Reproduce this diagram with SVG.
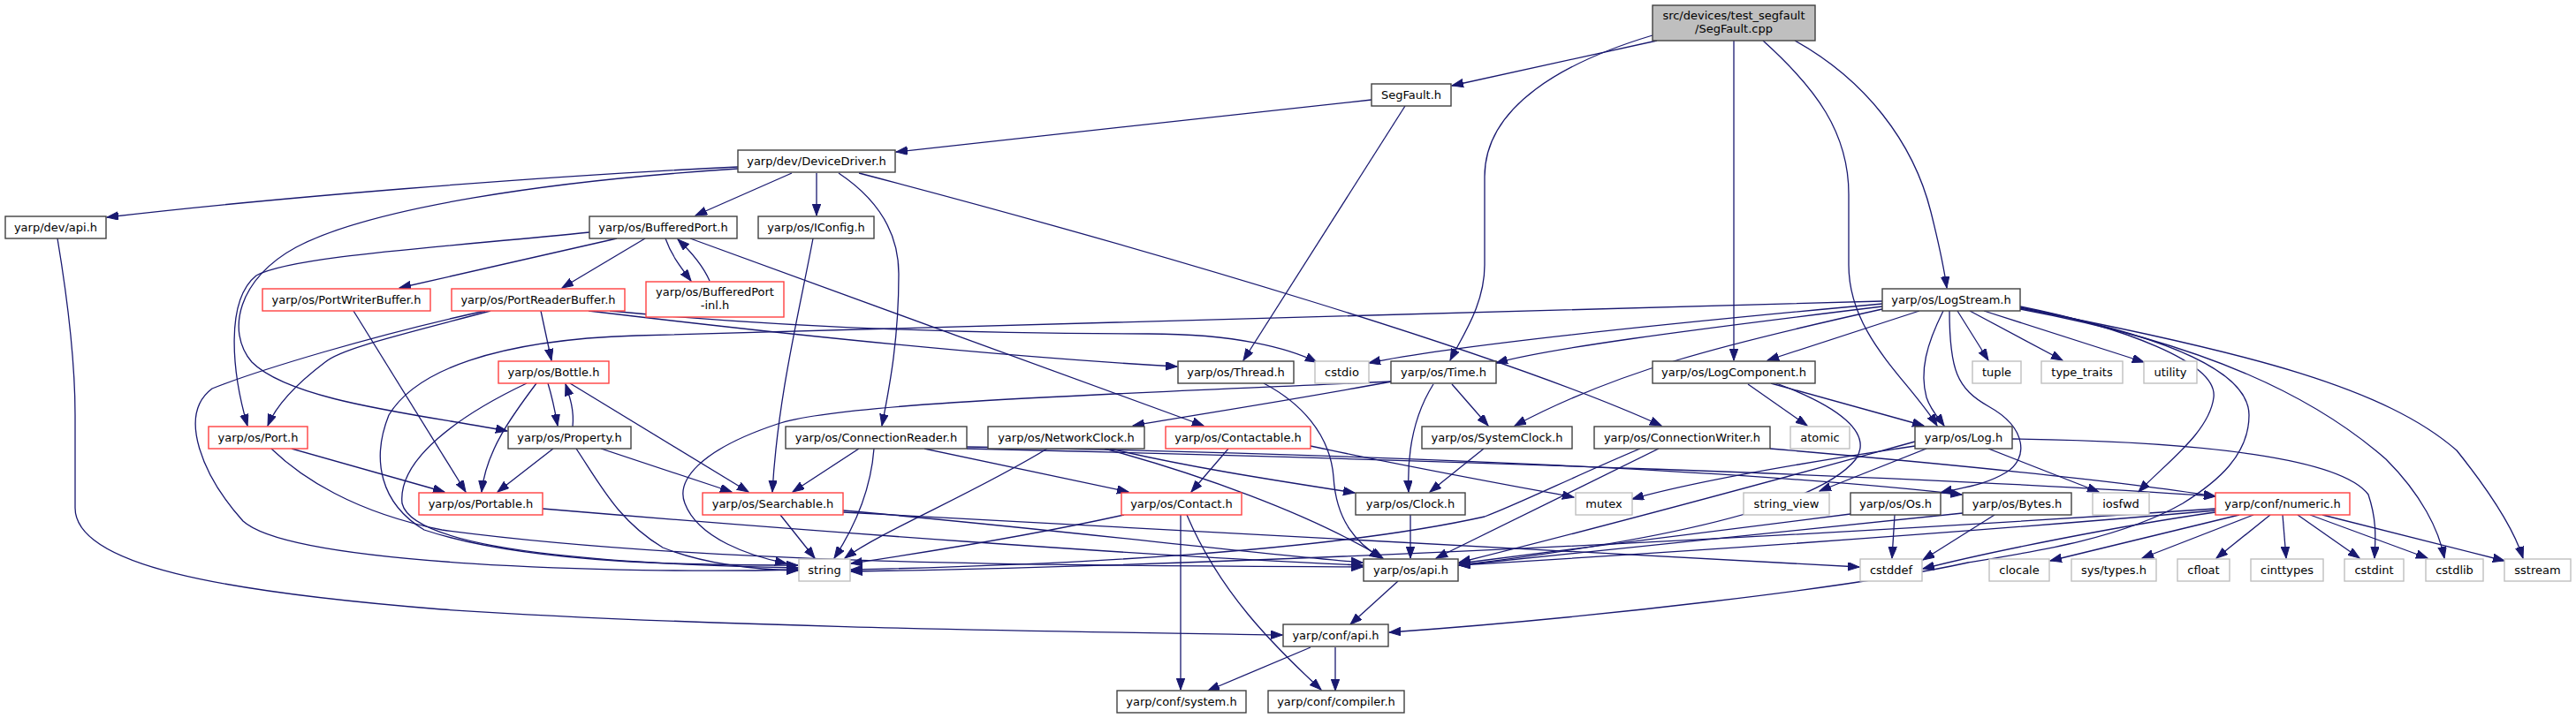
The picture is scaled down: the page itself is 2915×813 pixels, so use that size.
<svg xmlns="http://www.w3.org/2000/svg" width="2915" height="813" viewBox="0 0 2915 813">
<style>
rect{fill:#fff;stroke:#404040;stroke-width:1.4}
.r rect{stroke:#ff4040}
.g rect{stroke:#bfbfbf}
.m rect{fill:#bfbfbf;stroke:#404040}
text{font-family:"DejaVu Sans",sans-serif;font-size:13px;text-anchor:middle;fill:#000}
#edges path{fill:none;stroke:#191970;stroke-width:1.3;marker-end:url(#a)}
</style>
<defs>
<marker id="a" markerUnits="userSpaceOnUse" markerWidth="14" markerHeight="10" refX="13" refY="4.75" orient="auto">
<path d="M0,0 L13,4.75 L0,9.5 z" fill="#191970" stroke="#191970" stroke-width="1"/>
</marker>
</defs>
<rect x="0" y="0" width="2915" height="813" style="fill:#fff;stroke:none"/>
<g id="edges">
<path d="M1875,46 L1643,97"/>
<path d="M1870,40 C1770,70 1680,120 1680,200 L1680,300 C1680,345 1655,380 1641,408"/>
<path d="M1962,46 L1962,408"/>
<path d="M1995,46 C2055,100 2092,150 2092,220 L2092,300 C2092,380 2160,430 2192,482"/>
<path d="M2031,46 C2110,90 2165,160 2185,240 C2195,280 2200,305 2203,326"/>
<path d="M1552,113 L1014,172"/>
<path d="M1590,120 L1407,408"/>
<path d="M835,189 C600,200 300,225 121,246"/>
<path d="M896,196 L787,244"/>
<path d="M924,196 L924,244"/>
<path d="M949,196 C985,220 1017,255 1017,310 C1017,390 1005,445 998,482"/>
<path d="M972,196 C1300,282 1700,400 1880,482"/>
<path d="M835,191 C620,205 420,235 335,280 C270,315 255,375 285,410 C330,455 480,470 574,488"/>
<path d="M65,270 C75,330 85,400 85,470 L85,575 C85,640 250,670 500,690 C800,710 1200,715 1451,719"/>
<path d="M667,263 C500,280 330,290 290,312 C255,340 262,420 280,482"/>
<path d="M698,270 L452,326"/>
<path d="M730,270 L636,326"/>
<path d="M753,270 C760,290 772,305 782,318"/>
<path d="M803,318 C795,300 782,285 767,271"/>
<path d="M781,270 L1362,482"/>
<path d="M920,270 C905,350 880,450 874,557"/>
<path d="M400,352 L527,557"/>
<path d="M555,352 C450,380 385,395 368,410 C335,435 312,460 303,482"/>
<path d="M612,352 L624,408"/>
<path d="M549,352 C420,380 290,420 240,440 C200,470 230,540 275,590 C330,640 700,650 903,645"/>
<path d="M666,352 C900,380 1150,405 1332,415"/>
<path d="M690,352 C900,372 1100,378 1300,378 C1400,378 1460,395 1490,410"/>
<path d="M620,434 C625,450 628,465 631,482"/>
<path d="M648,483 C650,465 645,450 640,435"/>
<path d="M607,434 C580,470 550,510 545,557"/>
<path d="M645,434 L847,557"/>
<path d="M596,434 C520,470 450,520 455,570 C470,630 750,640 903,643"/>
<path d="M626,508 L563,557"/>
<path d="M680,508 L828,557"/>
<path d="M652,508 C680,550 700,590 750,620 C800,640 860,645 903,646"/>
<path d="M330,508 L503,557"/>
<path d="M307,508 C340,540 400,580 500,600 C800,640 1200,640 1542,642"/>
<path d="M614,576 C900,600 1300,630 1542,640"/>
<path d="M883,583 L922,632"/>
<path d="M954,578 C1200,600 1400,625 1542,637"/>
<path d="M954,580 C1400,605 1800,625 2104,642"/>
<path d="M972,508 L897,557"/>
<path d="M989,508 C985,560 965,600 944,632"/>
<path d="M1046,508 L1277,557"/>
<path d="M1094,508 C1600,520 2200,540 2507,562"/>
<path d="M1094,506 C1600,515 2000,535 2220,560"/>
<path d="M1185,508 C1100,560 1000,600 956,632"/>
<path d="M1256,508 C1350,530 1450,545 1533,558"/>
<path d="M1250,508 C1350,535 1480,580 1565,632"/>
<path d="M1483,505 C1600,530 1700,548 1781,563"/>
<path d="M1390,508 L1348,557"/>
<path d="M1272,583 C1150,610 1030,628 963,638"/>
<path d="M1336,583 L1336,781"/>
<path d="M1343,583 C1380,670 1440,730 1495,781"/>
<path d="M1575,432 C1450,455 1350,470 1282,482"/>
<path d="M1430,434 C1470,455 1505,490 1509,540 C1512,590 1535,615 1563,632"/>
<path d="M1643,435 L1684,482"/>
<path d="M1622,435 C1600,470 1592,510 1594,557"/>
<path d="M1574,432 C1300,445 950,455 880,480 C790,510 765,545 775,570 C790,610 850,630 890,638"/>
<path d="M1679,508 L1618,557"/>
<path d="M1877,508 L1625,632"/>
<path d="M1856,508 C1780,540 1720,570 1680,585 C1500,625 1200,640 963,645"/>
<path d="M2003,508 C2200,525 2400,545 2507,562"/>
<path d="M1596,583 L1596,632"/>
<path d="M1978,435 L2045,482"/>
<path d="M2004,434 L2177,482"/>
<path d="M2010,434 C2080,460 2120,490 2100,520 C2060,570 1900,610 1651,640"/>
<path d="M2180,508 L2059,556"/>
<path d="M2167,500 C1950,560 1800,600 1651,637"/>
<path d="M2167,505 C2000,530 1900,550 1847,565"/>
<path d="M2277,497 C2500,500 2650,520 2680,560 C2690,590 2688,610 2687,632"/>
<path d="M2250,508 L2375,557"/>
<path d="M2130,344 C1900,365 1650,390 1549,411"/>
<path d="M2130,347 C1900,375 1750,395 1693,411"/>
<path d="M2130,350 C1950,390 1830,420 1714,482"/>
<path d="M2172,352 L2000,408"/>
<path d="M2199,352 C2180,390 2172,420 2180,450 C2185,465 2195,475 2200,482"/>
<path d="M2206,352 C2206,420 2215,440 2250,460 C2295,485 2295,520 2270,535 C2245,550 2220,552 2196,558"/>
<path d="M2215,352 L2250,408"/>
<path d="M2229,352 L2334,408"/>
<path d="M2245,352 L2426,410"/>
<path d="M2286,347 C2400,370 2510,410 2505,450 C2500,490 2450,525 2420,557"/>
<path d="M2286,348 C2450,380 2545,420 2545,470 C2545,515 2510,545 2470,570 C2400,610 2300,625 2227,637 C2100,665 1800,700 1572,716"/>
<path d="M2286,350 C2500,390 2620,450 2700,520 C2740,560 2760,600 2766,632"/>
<path d="M2286,349 C2550,400 2700,440 2780,510 C2820,560 2845,600 2855,632"/>
<path d="M2130,341 L720,380 C560,385 470,420 440,470 C420,520 430,570 480,600 C600,640 800,640 903,640"/>
<path d="M2534,583 L2320,635"/>
<path d="M2550,583 L2424,632"/>
<path d="M2569,583 L2508,632"/>
<path d="M2583,583 L2587,632"/>
<path d="M2600,583 L2670,632"/>
<path d="M2614,583 L2747,632"/>
<path d="M2628,583 L2834,635"/>
<path d="M2507,580 C2400,595 2250,625 2176,644"/>
<path d="M2507,578 C2200,605 1900,625 1651,640"/>
<path d="M2507,576 C2000,610 1400,640 963,647"/>
<path d="M2144,583 L2141,632"/>
<path d="M2094,582 L1651,638"/>
<path d="M2257,583 L2176,634"/>
<path d="M2221,581 C2000,605 1800,625 1651,640"/>
<path d="M1582,658 L1528,707"/>
<path d="M1483,733 L1367,782"/>
<path d="M1511,733 L1511,782"/>
</g>
<g id="main" class="m"><rect x="1870" y="6" width="184" height="40"/><text x="1962" y="22">src/devices/test_segfault</text><text x="1962" y="37">/SegFault.cpp</text></g>
<g id="segh"><rect x="1552" y="95" width="90" height="25"/><text x="1597" y="112">SegFault.h</text></g>
<g id="dd"><rect x="835" y="170" width="178" height="25"/><text x="924" y="187">yarp/dev/DeviceDriver.h</text></g>
<g id="devapi"><rect x="6" y="245" width="114" height="25"/><text x="63" y="262">yarp/dev/api.h</text></g>
<g id="bp"><rect x="667" y="245" width="167" height="25"/><text x="750.5" y="262">yarp/os/BufferedPort.h</text></g>
<g id="iconfig"><rect x="858" y="245" width="131" height="25"/><text x="923.5" y="262">yarp/os/IConfig.h</text></g>
<g id="pwb" class="r"><rect x="297" y="327" width="190" height="25"/><text x="392" y="344">yarp/os/PortWriterBuffer.h</text></g>
<g id="prb" class="r"><rect x="511" y="327" width="196" height="25"/><text x="609" y="344">yarp/os/PortReaderBuffer.h</text></g>
<g id="bpinl" class="r"><rect x="731" y="319" width="156" height="40"/><text x="809" y="335">yarp/os/BufferedPort</text><text x="809" y="350">-inl.h</text></g>
<g id="bottle" class="r"><rect x="564" y="409" width="125" height="25"/><text x="626.5" y="426">yarp/os/Bottle.h</text></g>
<g id="thread"><rect x="1333" y="409" width="131" height="25"/><text x="1398.5" y="426">yarp/os/Thread.h</text></g>
<g id="cstdio" class="g"><rect x="1488" y="409" width="61" height="25"/><text x="1518.5" y="426">cstdio</text></g>
<g id="time"><rect x="1574" y="409" width="119" height="25"/><text x="1633.5" y="426">yarp/os/Time.h</text></g>
<g id="logcomp"><rect x="1870" y="409" width="184" height="25"/><text x="1962" y="426">yarp/os/LogComponent.h</text></g>
<g id="logstream"><rect x="2130" y="327" width="156" height="25"/><text x="2208" y="344">yarp/os/LogStream.h</text></g>
<g id="tuple" class="g"><rect x="2232" y="409" width="55" height="25"/><text x="2259.5" y="426">tuple</text></g>
<g id="typetraits" class="g"><rect x="2310" y="409" width="92" height="25"/><text x="2356" y="426">type_traits</text></g>
<g id="utility" class="g"><rect x="2426" y="409" width="60" height="25"/><text x="2456" y="426">utility</text></g>
<g id="port" class="r"><rect x="236" y="483" width="112" height="25"/><text x="292" y="500">yarp/os/Port.h</text></g>
<g id="property"><rect x="575" y="483" width="139" height="25"/><text x="644.5" y="500">yarp/os/Property.h</text></g>
<g id="connreader"><rect x="889" y="483" width="205" height="25"/><text x="991.5" y="500">yarp/os/ConnectionReader.h</text></g>
<g id="netclock"><rect x="1118" y="483" width="177" height="25"/><text x="1206.5" y="500">yarp/os/NetworkClock.h</text></g>
<g id="contactable" class="r"><rect x="1319" y="483" width="164" height="25"/><text x="1401" y="500">yarp/os/Contactable.h</text></g>
<g id="sysclock"><rect x="1609" y="483" width="170" height="25"/><text x="1694" y="500">yarp/os/SystemClock.h</text></g>
<g id="connwriter"><rect x="1804" y="483" width="199" height="25"/><text x="1903.5" y="500">yarp/os/ConnectionWriter.h</text></g>
<g id="atomic" class="g"><rect x="2026" y="483" width="67" height="25"/><text x="2059.5" y="500">atomic</text></g>
<g id="log"><rect x="2167" y="483" width="110" height="25"/><text x="2222" y="500">yarp/os/Log.h</text></g>
<g id="portable" class="r"><rect x="474" y="558" width="140" height="25"/><text x="544" y="575">yarp/os/Portable.h</text></g>
<g id="searchable" class="r"><rect x="795" y="558" width="159" height="25"/><text x="874.5" y="575">yarp/os/Searchable.h</text></g>
<g id="contact" class="r"><rect x="1269" y="558" width="136" height="25"/><text x="1337" y="575">yarp/os/Contact.h</text></g>
<g id="clock"><rect x="1534" y="558" width="124" height="25"/><text x="1596" y="575">yarp/os/Clock.h</text></g>
<g id="mutex" class="g"><rect x="1783" y="558" width="64" height="25"/><text x="1815" y="575">mutex</text></g>
<g id="stringview" class="g"><rect x="1973" y="558" width="97" height="25"/><text x="2021.5" y="575">string_view</text></g>
<g id="os"><rect x="2094" y="558" width="102" height="25"/><text x="2145" y="575">yarp/os/Os.h</text></g>
<g id="bytes"><rect x="2221" y="558" width="123" height="25"/><text x="2282.5" y="575">yarp/os/Bytes.h</text></g>
<g id="iosfwd" class="g"><rect x="2368" y="558" width="64" height="25"/><text x="2400" y="575">iosfwd</text></g>
<g id="numeric" class="r"><rect x="2507" y="558" width="152" height="25"/><text x="2583" y="575">yarp/conf/numeric.h</text></g>
<g id="string" class="g"><rect x="904" y="633" width="58" height="25"/><text x="933" y="650">string</text></g>
<g id="osapi"><rect x="1543" y="633" width="107" height="25"/><text x="1596.5" y="650">yarp/os/api.h</text></g>
<g id="cstddef" class="g"><rect x="2105" y="633" width="70" height="25"/><text x="2140" y="650">cstddef</text></g>
<g id="clocale" class="g"><rect x="2251" y="633" width="68" height="25"/><text x="2285" y="650">clocale</text></g>
<g id="systypes" class="g"><rect x="2344" y="633" width="96" height="25"/><text x="2392" y="650">sys/types.h</text></g>
<g id="cfloat" class="g"><rect x="2464" y="633" width="59" height="25"/><text x="2493.5" y="650">cfloat</text></g>
<g id="cinttypes" class="g"><rect x="2547" y="633" width="82" height="25"/><text x="2588" y="650">cinttypes</text></g>
<g id="cstdint" class="g"><rect x="2653" y="633" width="67" height="25"/><text x="2686.5" y="650">cstdint</text></g>
<g id="cstdlib" class="g"><rect x="2745" y="633" width="65" height="25"/><text x="2777.5" y="650">cstdlib</text></g>
<g id="sstream" class="g"><rect x="2834" y="633" width="75" height="25"/><text x="2871.5" y="650">sstream</text></g>
<g id="confapi"><rect x="1452" y="707" width="119" height="25"/><text x="1511.5" y="724">yarp/conf/api.h</text></g>
<g id="confsystem"><rect x="1264" y="782" width="146" height="25"/><text x="1337" y="799">yarp/conf/system.h</text></g>
<g id="confcompiler"><rect x="1435" y="782" width="154" height="25"/><text x="1512" y="799">yarp/conf/compiler.h</text></g>
</svg>
